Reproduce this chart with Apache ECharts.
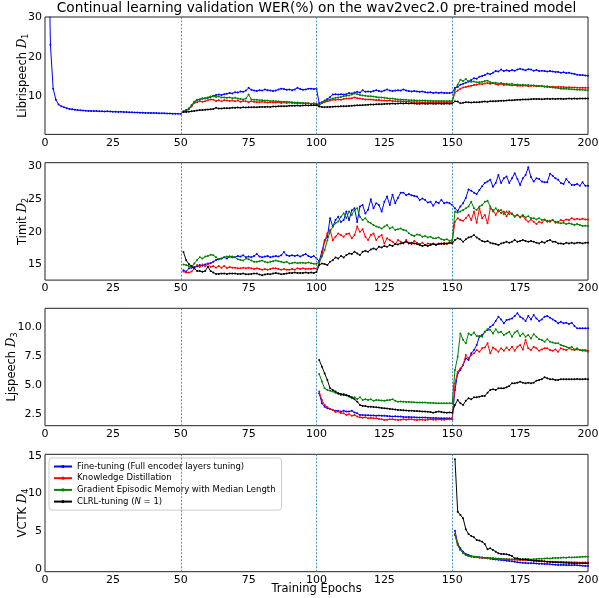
<!DOCTYPE html>
<html><head><meta charset="utf-8">
<script src="https://cdn.jsdelivr.net/npm/echarts@6/dist/echarts.min.js"></script>
<style>html,body{margin:0;padding:0;background:#fff}#c{width:599px;height:598px}</style>
</head><body><div id="c"></div>
<script>
// ---- Series names ----
const seriesNames = [
  'Fine-tuning (Full encoder layers tuning)',
  'Knowledge Distillation',
  'Gradient Episodic Memory with Median Length',
  'CLRL-tuning (N = 1)'
];
const seriesColors = ['#0000ff', '#ff0000', '#008000', '#000000'];
const xTicks = [0, 25, 50, 75, 100, 125, 150, 175, 200];
const taskBoundaries = [50, 100, 150];

// ---- Panel 1: Librispeech D1 ----
const libriFtStart = 1;
const libriFt = [
 60,23,12,9.2,8.0,7.6,7.3,7.1,6.9,6.8,
 6.7,6.6,6.55,6.5,6.45,6.4,6.4,6.35,6.35,6.3,
 6.3,6.25,6.3,6.25,6.2,6.2,6.15,6.2,6.1,6.1,
 6.05,6.05,6.0,6.0,5.95,5.95,5.9,5.9,5.9,5.85,
 5.85,5.8,5.8,5.8,5.75,5.75,5.7,5.7,5.7,5.65,
 6.3,6.6,7.0,7.8,8.7,9.1,9.3,9.5,9.6,9.7,
 9.9,10.2,10.4,10.5,10.4,10.6,10.7,10.9,10.8,11.1,
 11.0,11.3,11.2,11.5,12.2,11.7,11.5,11.4,11.6,11.5,
 11.8,11.6,11.5,11.4,11.5,11.8,12.0,11.9,11.7,11.8,
 11.6,11.8,12.2,11.9,11.7,11.8,12.0,12.0,11.9,12.0,
 8.3,8.6,9.0,9.4,9.9,10.5,10.6,10.5,10.6,10.5,
 10.6,10.9,10.8,11.0,11.2,11.0,11.6,11.2,11.3,11.2,
 11.4,11.6,11.4,11.3,11.5,11.8,11.5,11.4,11.5,11.6,
 11.5,11.8,11.5,11.4,11.3,11.4,11.3,11.2,11.3,11.1,
 11.0,11.1,10.9,11.0,10.9,11.0,10.9,10.9,10.9,11.0,
 12.2,12.4,13.0,13.2,13.5,13.8,14.2,14.6,14.5,15.0,
 15.2,15.4,15.8,15.6,16.0,16.4,16.3,16.8,16.4,16.6,
 16.4,16.7,16.5,16.8,17.0,16.8,16.6,16.9,16.8,16.5,
 16.7,16.4,16.5,16.4,16.3,16.4,16.3,16.2,16.2,16.0,
 16.1,15.9,16.0,15.8,15.7,15.5,15.4,15.4,15.3,15.25
];
const libriOtherStart = 51;
const libriKd = [
 6.2,6.4,6.8,7.5,8.4,8.6,8.8,8.7,8.8,9.1,
 9.3,9.2,8.9,9.1,8.8,9.1,9.0,8.9,9.0,8.8,
 9.0,8.7,8.9,8.8,8.6,8.8,8.7,8.6,8.6,8.7,
 8.6,8.5,8.6,8.5,8.5,8.6,8.4,8.5,8.4,8.5,
 8.4,8.4,8.3,8.4,8.3,8.3,8.3,8.2,8.3,8.2,
 7.9,8.3,8.6,8.8,9.0,9.2,9.2,9.3,9.2,9.4,
 9.5,9.5,9.6,9.8,9.6,9.5,9.4,9.3,9.3,9.25,
 9.2,9.1,9.15,9.0,9.0,8.95,9.0,8.9,8.85,8.8,
 8.85,8.75,8.7,8.75,8.6,8.65,8.6,8.6,8.55,8.6,
 8.55,8.6,8.55,8.6,8.55,8.6,8.55,8.6,8.6,8.6,
 11.0,11.5,12.0,12.3,12.4,12.6,12.7,12.9,13.0,13.2,
 13.1,13.3,13.4,13.2,13.4,13.1,13.0,13.2,12.9,13.0,
 12.9,12.8,12.9,12.7,12.75,12.7,12.8,12.6,12.7,12.75,
 12.6,12.6,12.7,12.5,12.6,12.5,12.5,12.4,12.45,12.4,
 12.4,12.3,12.35,12.3,12.3,12.25,12.2,12.25,12.2,12.2
];
const libriGem = [
 6.2,6.5,7.0,7.8,8.6,9.2,9.3,9.5,9.5,9.8,
 10.0,10.1,9.9,10.0,9.8,9.8,9.7,9.8,9.6,9.7,
 9.5,9.4,9.3,9.5,10.5,9.3,9.2,9.2,9.1,9.1,
 9.0,9.0,8.9,8.9,8.8,8.8,8.7,8.7,8.7,8.6,
 8.6,8.5,8.5,8.4,8.4,8.3,8.3,8.2,8.2,8.1,
 7.8,8.4,8.8,9.1,9.3,9.5,9.7,9.8,9.9,10.1,
 10.2,10.3,10.5,10.75,10.6,10.4,10.3,10.2,10.1,10.1,
 10.0,9.9,9.8,9.8,9.7,9.6,9.5,9.5,9.4,9.3,
 9.3,9.2,9.2,9.1,9.1,9.05,9.0,9.0,9.0,9.0,
 8.95,8.95,8.9,8.9,8.9,8.9,8.9,8.85,8.9,8.9,
 11.75,13.0,14.25,13.9,14.4,13.8,13.7,13.8,13.6,13.6,
 13.7,13.9,14.0,13.6,13.4,13.5,13.3,13.4,13.2,13.2,
 13.1,13.2,13.0,13.05,12.9,12.95,12.85,12.9,12.8,12.8,
 12.7,12.65,12.6,12.55,12.4,12.4,12.3,12.2,12.15,12.0,
 12.0,11.95,11.9,11.85,11.8,11.75,11.7,11.7,11.65,11.6
];
const libriClrl = [
 6.1,6.15,6.2,6.3,6.4,6.5,6.6,6.6,6.7,6.75,
 6.8,6.9,7.2,7.0,7.0,7.1,7.1,7.1,7.2,7.2,
 7.25,7.2,7.3,7.25,7.3,7.3,7.35,7.3,7.4,7.4,
 7.4,7.45,7.4,7.5,7.5,7.55,7.6,7.6,7.6,7.7,
 7.7,7.7,7.75,7.7,7.75,7.8,7.75,7.8,7.8,7.8,
 7.5,7.4,7.35,7.4,7.4,7.45,7.5,7.5,7.55,7.6,
 7.6,7.65,7.7,7.75,7.8,7.8,7.85,7.9,7.95,8.0,
 8.0,8.05,8.1,8.1,8.15,8.2,8.2,8.25,8.2,8.25,
 8.3,8.25,8.3,8.25,8.3,8.25,8.2,8.2,8.25,8.2,
 8.2,8.25,8.2,8.2,8.25,8.2,8.2,8.25,8.2,8.25,
 8.8,8.75,8.3,8.45,8.6,8.55,8.5,8.6,8.55,8.6,
 8.7,8.75,8.7,8.8,8.85,8.85,8.9,8.95,8.95,9.0,
 9.1,9.05,9.15,9.2,9.2,9.25,9.3,9.3,9.35,9.4,
 9.4,9.4,9.35,9.4,9.45,9.4,9.45,9.4,9.45,9.45,
 9.4,9.45,9.5,9.45,9.5,9.45,9.5,9.5,9.5,9.5
];

// ---- Panel 2: Timit D2 (epochs 51-200) ----
const timitStart = 51;
const timitFt = [
 14.1,13.9,14.4,14.5,14.6,14.7,14.9,14.8,15.0,15.15,
 15.2,15.4,15.7,15.8,15.9,16.1,15.9,16.2,16.1,16.1,
 16.3,16.2,16.4,16.1,16.2,16.1,16.3,16.6,16.2,16.1,
 16.2,16.3,16.1,16.2,16.3,16.2,16.4,16.9,16.4,16.3,
 16.4,16.3,16.4,16.2,16.4,16.6,16.3,16.1,16.3,15.9,
 15.5,17.0,18.7,19.2,22.1,20.8,21.8,22.3,21.5,21.8,
 23.1,21.8,23.3,23.6,21.5,23.9,24.1,22.8,23.4,25.0,
 23.6,24.4,24.1,23.1,24.6,25.4,24.1,25.7,24.4,25.2,
 26.0,26.0,25.6,25.8,25.6,25.5,25.4,24.9,25.1,24.9,
 24.5,24.6,24.0,24.6,24.4,24.9,24.4,24.5,24.4,24.1,
 23.6,23.2,23.9,24.4,25.2,26.5,26.3,26.0,25.8,26.4,
 27.0,27.5,27.7,28.0,26.9,27.5,28.7,27.5,28.2,28.5,
 27.5,28.2,29.0,28.1,27.2,28.2,28.7,29.9,28.4,27.7,
 28.2,28.1,27.7,27.6,27.6,28.9,28.6,28.2,28.0,27.5,
 27.35,28.1,27.6,27.2,27.2,27.35,27.05,27.6,27.05,27.05
];
const timitKd = [
 13.9,13.75,13.75,13.9,14.4,14.9,14.6,15.0,14.7,15.05,
 14.6,14.75,14.5,14.75,14.5,14.75,14.45,14.6,14.5,14.5,
 14.4,14.4,14.5,14.4,14.5,14.4,14.3,14.4,14.3,14.2,
 14.3,14.2,14.3,14.4,14.4,14.3,14.2,14.3,14.2,14.2,
 14.3,14.2,14.4,14.3,14.4,14.3,14.35,14.3,14.4,14.35,
 15.15,16.4,18.5,19.8,20.3,18.7,19.25,19.76,19.5,19.25,
 19.65,19.76,19.0,19.5,20.8,20.0,20.4,19.25,18.74,19.5,
 19.76,18.74,19.25,19.5,18.2,19.0,18.74,18.48,18.12,18.74,
 18.48,18.23,18.74,18.33,18.12,18.6,18.33,18.12,18.33,17.97,
 18.23,18.12,18.23,18.07,18.23,18.12,18.33,18.12,18.33,18.48,
 21.55,22.1,21.8,21.7,22.1,22.6,21.8,23.1,21.4,23.6,
 22.1,22.6,21.3,23.6,23.35,22.6,23.35,22.85,23.1,22.4,
 23.1,22.7,22.3,22.6,22.2,22.4,21.9,21.55,21.9,21.55,
 21.2,21.55,21.4,21.8,21.55,21.7,21.8,21.4,21.55,21.8,
 21.7,21.9,21.8,22.1,21.9,22.0,21.9,22.0,21.9,21.9
];
const timitGem = [
 15.0,14.9,14.75,14.6,15.15,15.7,16.1,15.9,16.2,16.3,
 16.5,16.4,16.1,15.8,15.9,16.1,16.2,16.2,16.2,16.1,
 15.8,15.7,15.6,15.9,15.8,15.6,15.4,15.4,15.5,15.6,
 15.4,15.3,15.4,15.5,15.6,15.5,15.4,15.3,15.4,15.15,
 15.2,15.3,15.2,15.25,15.25,15.2,15.3,15.2,15.1,15.1,
 15.4,16.2,17.2,18.7,20.0,20.8,21.3,21.6,22.3,22.85,
 22.1,23.1,22.6,23.35,23.6,22.3,21.8,22.1,21.55,21.3,
 21.05,20.8,20.7,20.5,20.8,21.05,20.5,20.7,20.3,20.4,
 20.5,20.3,20.2,19.8,19.5,19.35,19.6,19.5,19.25,19.35,
 19.15,19.25,19.0,19.0,19.15,18.85,18.75,18.85,18.65,18.75,
 23.1,22.95,23.1,23.35,23.6,23.9,24.6,23.6,23.35,23.9,
 24.1,24.6,24.75,23.9,23.1,23.6,23.1,23.35,22.7,23.1,
 22.7,22.85,22.4,22.6,22.3,22.6,22.2,22.4,22.1,22.1,
 21.9,22.1,21.8,21.9,21.7,21.55,21.8,21.55,21.4,21.3,
 21.4,21.2,21.3,21.2,21.05,21.2,21.05,20.9,20.95,20.9
];
const timitClrl = [
 16.9,15.65,15.05,14.75,14.4,14.0,14.0,13.87,14.0,14.64,
 14.0,13.75,13.55,13.55,13.6,13.6,13.55,13.6,13.6,13.6,
 13.55,13.55,13.6,13.5,13.5,13.55,13.6,13.6,13.45,13.35,
 13.45,13.55,13.5,13.6,13.7,13.6,13.5,13.55,13.6,13.7,
 13.7,13.75,13.7,13.7,13.7,13.75,13.7,13.75,13.7,13.85,
 14.9,15.15,15.05,14.9,15.4,15.66,16.07,15.92,16.3,16.07,
 16.43,16.69,16.6,16.95,16.69,16.43,16.94,17.1,16.94,17.3,
 17.46,17.3,17.71,17.6,17.82,17.71,17.97,17.82,18.12,18.07,
 18.23,18.33,18.48,18.23,18.33,18.23,18.12,17.97,17.82,17.97,
 17.82,17.97,18.12,17.97,18.12,18.23,18.12,18.23,18.33,18.23,
 18.74,19.0,18.85,18.48,18.85,19.15,19.25,19.5,19.15,18.85,
 18.6,18.48,18.6,18.33,18.23,18.12,17.97,18.23,18.33,18.48,
 18.33,18.48,18.74,18.48,18.6,18.74,18.6,18.48,18.6,18.48,
 18.33,18.23,18.48,18.33,18.6,18.74,18.48,18.48,18.23,18.23,
 18.12,18.33,18.23,18.33,18.23,18.33,18.33,18.23,18.33,18.33
];

// ---- Panel 3: Ljspeech D3 (epochs 101-200) ----
const ljStart = 101;
const ljFt = [
 4.3,3.44,3.15,3.01,2.95,2.87,2.8,2.8,2.73,2.8,
 2.73,2.73,2.8,2.65,2.58,2.44,2.44,2.42,2.42,2.4,
 2.4,2.37,2.4,2.37,2.37,2.35,2.33,2.3,2.32,2.3,
 2.3,2.27,2.25,2.27,2.25,2.24,2.23,2.22,2.22,2.22,
 2.2,2.19,2.18,2.17,2.15,2.16,2.15,2.15,2.15,2.15,
 4.58,6.0,6.29,6.72,7.29,7.15,7.72,8.0,8.43,9.15,
 9.29,9.57,9.72,10.0,10.14,10.5,10.86,10.63,10.29,10.57,
 10.63,10.71,10.92,11.15,10.86,10.71,10.5,10.92,10.63,11.0,
 10.71,10.5,10.63,10.86,10.92,10.78,10.63,10.5,10.29,10.43,
 10.29,10.35,10.23,10.35,10.06,9.86,9.86,9.86,9.86,9.86
];
const ljKd = [
 4.44,3.72,3.3,3.1,2.95,2.87,2.7,2.73,2.6,2.58,
 2.44,2.5,2.37,2.44,2.3,2.24,2.21,2.24,2.15,2.18,
 2.15,2.15,2.1,2.07,2.01,2.04,2.07,2.07,2.04,2.01,
 2.04,2.07,2.04,2.07,2.07,2.04,2.01,2.04,2.04,2.01,
 2.04,2.07,2.04,2.04,2.07,2.04,2.04,2.07,2.07,2.07,
 5.15,6.15,6.43,6.72,7.58,7.29,7.58,7.72,8.0,7.86,
 8.15,8.23,8.58,7.72,8.23,8.06,7.86,8.15,7.95,8.23,
 8.0,8.29,7.95,8.29,8.43,8.06,8.86,8.15,8.0,8.29,
 8.15,7.95,8.06,8.15,8.15,8.0,7.95,8.06,7.86,8.15,
 8.06,8.0,8.15,8.06,8.0,8.06,8.0,8.0,8.0,7.95
];
const ljGem = [
 5.95,5.3,4.72,4.58,4.52,4.44,4.35,4.25,4.15,4.25,
 4.1,4.01,3.87,3.95,3.8,3.95,3.72,3.78,3.72,3.78,
 3.66,3.72,3.7,3.68,3.66,3.7,3.72,3.78,3.66,3.58,
 3.6,3.58,3.56,3.56,3.53,3.53,3.5,3.5,3.5,3.5,
 3.48,3.47,3.47,3.45,3.44,3.44,3.44,3.44,3.44,3.44,
 6.29,7.43,9.43,8.86,8.58,9.43,9.29,9.5,9.2,9.2,
 9.15,9.57,9.78,9.72,9.43,9.78,9.5,9.57,9.29,9.43,
 9.57,9.15,9.5,9.65,9.2,9.43,9.15,9.29,9.0,9.36,
 9.15,8.93,8.86,8.72,8.93,8.72,8.65,8.58,8.58,8.43,
 8.36,8.29,8.15,8.29,8.06,8.15,8.0,7.95,7.95,7.86
];
const ljClrl = [
 7.15,6.58,6.0,5.44,4.72,4.58,4.44,4.3,4.24,4.15,
 4.15,4.07,3.95,3.78,3.58,3.3,3.21,3.21,3.15,3.15,
 3.12,3.1,3.07,3.04,3.01,2.99,2.96,2.93,2.9,2.87,
 2.86,2.84,2.82,2.81,2.81,2.79,2.77,2.76,2.74,2.73,
 2.71,2.69,2.64,2.69,2.73,2.69,2.66,2.64,2.66,2.64,
 3.3,3.72,3.44,3.3,3.66,3.87,3.78,3.95,3.95,4.01,
 4.07,4.07,4.35,4.58,4.64,4.58,4.72,4.72,4.72,4.81,
 4.92,5.15,5.15,5.21,5.29,5.21,5.15,5.21,5.15,5.21,
 5.38,5.44,5.5,5.67,5.58,5.5,5.5,5.44,5.44,5.5,
 5.5,5.5,5.5,5.5,5.5,5.52,5.5,5.5,5.52,5.5
];

// ---- Panel 4: VCTK D4 (epochs 151-200) ----
const vctkStart = 151;
const vctkFt = [
 5.11,3.43,2.77,2.33,2.02,1.89,1.76,1.67,1.62,1.58,
 1.55,1.5,1.45,1.4,1.32,1.3,1.26,1.23,1.18,1.14,
 1.1,1.05,1.0,0.93,0.88,0.85,0.83,0.8,0.8,0.79,
 0.76,0.74,0.72,0.7,0.7,0.66,0.63,0.6,0.58,0.57,
 0.57,0.55,0.55,0.53,0.57,0.52,0.5,0.47,0.45,0.44
];
const vctkKd = [
 4.67,3.21,2.55,2.2,1.89,1.76,1.67,1.62,1.6,1.54,
 1.5,1.48,1.45,1.45,1.45,1.4,1.38,1.35,1.34,1.32,
 1.3,1.28,1.27,1.25,1.23,1.22,1.2,1.18,1.16,1.14,
 1.12,1.1,1.08,1.05,1.01,1.01,1.0,0.98,1.0,1.01,
 0.97,0.95,0.94,0.92,0.92,0.9,0.9,0.89,0.88,0.88
];
const vctkGem = [
 4.54,3.21,2.55,2.11,1.89,1.76,1.72,1.67,1.62,1.58,
 1.55,1.52,1.5,1.47,1.45,1.42,1.4,1.36,1.34,1.32,
 1.32,1.3,1.32,1.3,1.32,1.3,1.32,1.35,1.3,1.32,
 1.36,1.4,1.38,1.42,1.45,1.42,1.48,1.5,1.5,1.52,
 1.55,1.53,1.58,1.56,1.58,1.6,1.62,1.64,1.67,1.67
];
const vctkClrl = [
 14.55,7.62,7.18,6.74,5.29,4.67,4.4,4.23,3.88,3.79,
 3.65,3.35,2.64,2.77,2.55,2.33,2.11,2.02,2.02,1.98,
 1.89,1.76,1.45,1.45,1.32,1.32,1.32,1.23,1.2,1.14,
 1.12,1.1,1.07,1.04,1.01,0.98,0.96,0.93,0.9,0.88,
 0.86,0.85,0.83,0.82,0.8,0.8,0.79,0.79,0.79,0.79
];

// ---- Y axis tick labels per panel ----
const yTicks1 = [10, 20, 30];
const yTicks2 = [15, 20, 25, 30];
const yTicks3 = [2.5, 5.0, 7.5, 10.0];
const yTicks4 = [0, 5, 10, 15];

// ---- Build chart ----
const pairs = (arr, start) => arr.map((v, i) => [start + i, v]);

const panels = [
  {label: 'Librispeech ', sub: '1', min: 0.5, max: 30, ticks: yTicks1, dec: 0, gap: 15,
   data: [[libriFt, libriFtStart], [libriKd, libriOtherStart], [libriGem, libriOtherStart], [libriClrl, libriOtherStart]]},
  {label: 'Timit ', sub: '2', min: 12.6, max: 30.6, ticks: yTicks2, dec: 0, gap: 15,
   data: [[timitFt, timitStart], [timitKd, timitStart], [timitGem, timitStart], [timitClrl, timitStart]]},
  {label: 'Ljspeech ', sub: '3', min: 1.52, max: 11.58, ticks: yTicks3, dec: 1, gap: 26,
   data: [[ljFt, ljStart], [ljKd, ljStart], [ljGem, ljStart], [ljClrl, ljStart]]},
  {label: 'VCTK ', sub: '4', min: -0.32, max: 15.2, ticks: yTicks4, dec: 0, gap: 15,
   data: [[vctkFt, vctkStart], [vctkKd, vctkStart], [vctkGem, vctkStart], [vctkClrl, vctkStart]]}
];
const gridTops = [17, 162.7, 308.3, 454.3];
const gridH = 117.4;
const FONT = 'DejaVu Sans';

const grids = [], xAxes = [], yAxes = [], series = [];
panels.forEach((p, gi) => {
  grids.push({left: 45, right: 11, top: gridTops[gi], height: gridH,
    show: true, borderColor: '#222', borderWidth: 1, backgroundColor: '#fff',
    containLabel: false, outerBoundsMode: 'none'});
  xAxes.push({type: 'value', gridIndex: gi, min: 0, max: 200, interval: 25,
    axisLine: {show: false}, axisTick: {show: false}, splitLine: {show: false},
    axisLabel: {color: '#000', fontFamily: FONT, fontSize: 11, margin: 3, showMaxLabel: true, showMinLabel: true},
    name: gi === 3 ? 'Training Epochs' : '', nameLocation: 'middle', nameGap: 11, nameMoveOverlap: false,
    nameTextStyle: {color: '#000', fontFamily: FONT, fontSize: 11.5}});
  yAxes.push({type: 'value', gridIndex: gi, min: p.min, max: p.max,
    axisLine: {show: false}, splitLine: {show: false},
    axisTick: {show: false},
    axisLabel: {color: '#000', fontFamily: FONT, fontSize: 11, margin: 3,
      customValues: p.ticks, formatter: v => Number(v).toFixed(p.dec)},
    name: p.label + '{d|D}{s|' + p.sub + '}', nameLocation: 'middle', nameRotate: 90,
    nameGap: p.gap, nameMoveOverlap: false,
    nameTextStyle: {color: '#000', fontFamily: FONT, fontSize: 11.5, lineHeight: 14,
      rich: {d: {fontFamily: 'DejaVu Serif', fontStyle: 'italic', fontSize: 12, color: '#000', lineHeight: 14},
             s: {fontFamily: FONT, fontSize: 8, color: '#000', verticalAlign: 'bottom', lineHeight: 14}}}});
  p.data.forEach(([arr, start], si) => {
    const s = {name: seriesNames[si], type: 'line', xAxisIndex: gi, yAxisIndex: gi,
      data: pairs(arr, start), showSymbol: true, showAllSymbol: true, symbol: 'circle', symbolSize: 2,
      lineStyle: {color: seriesColors[si], width: 1}, itemStyle: {color: seriesColors[si]},
      clip: true, animation: false, z: 3 + si, silent: true};
    if (si === 0) {
      s.markLine = {silent: true, symbol: 'none', label: {show: false}, animation: false,
        lineStyle: {color: '#1f77b4', type: [2, 1.5], width: 0.8},
        data: taskBoundaries.map(b => ({xAxis: b}))};
    }
    series.push(s);
  });
});

const chart = echarts.init(document.getElementById('c'), null, {renderer: 'canvas'});
chart.setOption({
  animation: false,
  backgroundColor: '#fff',
  graphic: [{type: 'text', x: 316.5, y: 1.5,
    style: {text: 'Continual learning validation WER(%) on the wav2vec2.0 pre-trained model',
      fontFamily: FONT, fontSize: 13.7, fill: '#000', align: 'center', textAlign: 'center'}}],
  grid: grids, xAxis: xAxes, yAxis: yAxes, series: series,
  legend: {data: seriesNames, orient: 'vertical', left: 49, top: 458,
    itemWidth: 18, itemHeight: 4, itemGap: 2.7, padding: [4, 6, 4, 4],
    backgroundColor: '#fff', borderColor: '#ccc', borderWidth: 1, borderRadius: 3,
    textStyle: {fontFamily: FONT, fontSize: 8.5, color: '#000',
      rich: {i: {fontFamily: FONT, fontStyle: 'italic', fontSize: 8.5, color: '#000'}}},
    formatter: n => n === seriesNames[3] ? 'CLRL-tuning ({i|N} = 1)' : n,
    selectedMode: false}
});
</script></body></html>
